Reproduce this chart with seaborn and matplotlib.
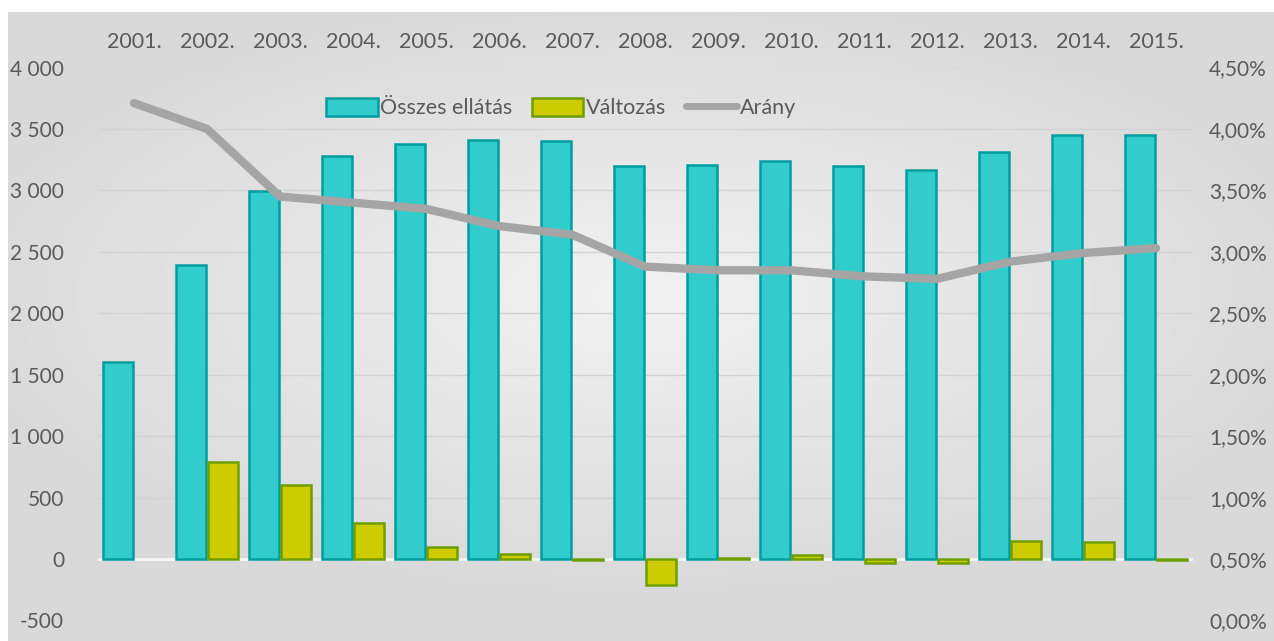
import numpy as np
import pandas as pd
import matplotlib
matplotlib.use("Agg")
import matplotlib.pyplot as plt
from matplotlib.colors import LinearSegmentedColormap
from matplotlib.patches import Patch
from matplotlib.lines import Line2D
import seaborn as sns

# ── adatok ──────────────────────────────────────────────────
years = ["2001.", "2002.", "2003.", "2004.", "2005.", "2006.", "2007.", "2008.",
         "2009.", "2010.", "2011.", "2012.", "2013.", "2014.", "2015."]
osszes = [1605, 2395, 2995, 3282, 3374, 3406, 3404, 3195,
          3206, 3238, 3201, 3168, 3311, 3450, 3447]
valtozas = [np.nan, 790, 600, 290, 95, 40, -5, -210,
            10, 35, -35, -30, 145, 140, -5]
arany = [4.21, 4.00, 3.45, 3.40, 3.35, 3.21, 3.14, 2.88,
         2.85, 2.85, 2.80, 2.78, 2.92, 2.99, 3.03]

left_ticks = [-500, 0, 500, 1000, 1500, 2000, 2500, 3000, 3500, 4000]
right_ticks = [0.0, 0.5, 1.0, 1.5, 2.0, 2.5, 3.0, 3.5, 4.0, 4.5]

TEAL, TEAL_EDGE = "#33CCCC", "#009E9E"
YELLOW, YELLOW_EDGE = "#CCCC00", "#6E9E00"
LINE = "#A5A5A5"
TEXT = "#5A5A5A"

sns.set_theme(style="white")
plt.rcParams["font.family"] = ["Lato", "DejaVu Sans"]

W, H = 1274, 641
fig = plt.figure(figsize=(W / 100, H / 100), dpi=100)

# háttér: radiális szürke átmenet
bg = fig.add_axes([8 / W, 0, 1 - 8 / W, 1 - 12 / H])
yy, xx = np.mgrid[0:1:200j, 0:1:400j]
r = np.sqrt(((xx - 0.5) / 0.8) ** 2 + ((yy - 0.45) / 0.7) ** 2)
cmap = LinearSegmentedColormap.from_list("bg", ["#F0F0F0", "#D9D9D9"])
bg.imshow(r, cmap=cmap, aspect="auto", extent=[0, 1, 0, 1], vmin=0.05, vmax=0.7)
bg.axis("off")

ax = fig.add_axes([97.5 / W, 1 - 620.5 / H, (1192.5 - 97.5) / W, (620.5 - 67.5) / H])
ax.set_facecolor("none")

df = pd.DataFrame({
    "ev": years * 2,
    "ertek": osszes + valtozas,
    "sorozat": ["Összes ellátás"] * len(years) + ["Változás"] * len(years),
})
sns.barplot(data=df, x="ev", y="ertek", hue="sorozat",
            palette=[TEAL, YELLOW], saturation=1, width=0.88, gap=0.08,
            linewidth=1.8, ax=ax, legend=False, zorder=3)
for cont, ec in zip(ax.containers, [TEAL_EDGE, YELLOW_EDGE]):
    for patch in cont:
        patch.set_edgecolor(ec)

ax.set_ylim(-500, 4000)
ax.set_xlim(-0.5, len(years) - 0.5)
ax.set_yticks(left_ticks)
ax.set_yticklabels([f"{v:,}".replace(",", " ") for v in left_ticks])
ax.grid(axis="y", color="#D2D2D2", lw=1, zorder=0)
ax.axhline(0, color="#F7F7F7", lw=2, zorder=2)
ax.xaxis.tick_top()
ax.set_xlabel("")
ax.set_ylabel("")
ax.tick_params(axis="x", length=0, pad=11, labelsize=15.5, labelcolor=TEXT)
ax.tick_params(axis="y", length=0, pad=24, labelsize=15, labelcolor=TEXT)
for s in ax.spines.values():
    s.set_visible(False)

ax2 = ax.twinx()
sns.lineplot(x=np.arange(len(years)), y=arany, color=LINE, lw=6,
             solid_capstyle="round", ax=ax2, zorder=4)
ax2.set_ylim(0, 4.5)
ax2.set_yticks(right_ticks)
ax2.set_yticklabels([f"{v:.2f}%".replace(".", ",") for v in right_ticks])
ax2.tick_params(axis="y", length=0, pad=12, labelsize=15, labelcolor=TEXT)
ax2.grid(False)
for s in ax2.spines.values():
    s.set_visible(False)

handles = [
    Patch(facecolor=TEAL, edgecolor=TEAL_EDGE, lw=1.8),
    Patch(facecolor=YELLOW, edgecolor=YELLOW_EDGE, lw=1.8),
    Line2D([0], [0], color=LINE, lw=5, solid_capstyle="round"),
]
fig.legend(handles, ["Összes ellátás", "Változás", "Arány"],
           loc="center", bbox_to_anchor=(561 / W, 1 - 108 / H), ncol=3,
           frameon=False, fontsize=15.5, labelcolor=TEXT,
           handlelength=2.4, handleheight=0.9, handletextpad=0.12, columnspacing=0.9)

fig.savefig("out.png", dpi=100)
